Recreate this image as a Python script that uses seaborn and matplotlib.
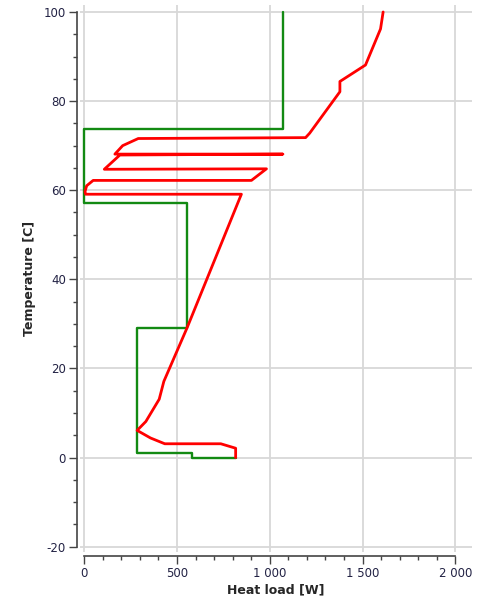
import pandas as pd
import matplotlib.pyplot as plt
import seaborn as sns
from matplotlib.ticker import MultipleLocator, FuncFormatter

# hot side (red) heat load vs temperature
hot_load = [1611, 1597, 1516, 1378, 1378, 1215, 1193, 291, 207, 165, 1071, 192, 108,
            982, 901, 48, 13, 4, 7, 847, 838, 554, 429, 404, 332, 285, 357, 434, 736,
            816, 816]
hot_temp = [100, 96.2, 88.1, 84.4, 82.1, 72.8, 71.8, 71.6, 70.0, 68.1, 68.1, 67.9, 64.7,
            64.8, 62.2, 62.2, 61.0, 59.7, 59.1, 59.1, 58.2, 29.1, 17.1, 13.1, 8.1, 6.1, 4.4,
            3.1, 3.1, 2.1, 0]

# cold side (green) step profile
cold_load = [1071, 1071, 0, 0, 554, 554, 282, 282, 583, 583, 816]
cold_temp = [100, 73.8, 73.8, 57.2, 57.2, 29.1, 29.1, 1.0, 1.0, 0, 0]

hot = pd.DataFrame({"load": hot_load, "temp": hot_temp})
cold = pd.DataFrame({"load": cold_load, "temp": cold_temp})

sns.set_style("whitegrid")
plt.rcParams["font.family"] = ["DejaVu Sans"]
plt.rcParams["axes.unicode_minus"] = False

fig = plt.figure(figsize=(4.79, 6.04), dpi=100)
ax = fig.add_axes([0.167, 0.086, 0.818, 0.906])

sns.lineplot(data=cold, x="load", y="temp", sort=False, estimator=None,
             color="#138a13", linewidth=1.7, ax=ax)
sns.lineplot(data=hot, x="load", y="temp", sort=False, estimator=None,
             color="#ff0000", linewidth=2.0, ax=ax)

ax.set_xlim(-23, 2089)
ax.set_ylim(-21.2, 101.6)
ax.xaxis.set_major_locator(MultipleLocator(500))
ax.xaxis.set_minor_locator(MultipleLocator(100))
ax.yaxis.set_major_locator(MultipleLocator(20))
ax.yaxis.set_minor_locator(MultipleLocator(5))
ax.xaxis.set_major_formatter(FuncFormatter(lambda v, p: f"{int(v):,}".replace(",", " ")))

ax.grid(True, which="major", color="#d8d8d8", linewidth=1.3)
ax.grid(False, which="minor")

for s in ["top", "right"]:
    ax.spines[s].set_visible(False)
for s in ["left", "bottom"]:
    ax.spines[s].set_visible(True)
    ax.spines[s].set_color("#444444")
    ax.spines[s].set_linewidth(1.2)
ax.spines["left"].set_position(("outward", 2))
ax.spines["bottom"].set_position(("outward", 3))
ax.spines["left"].set_bounds(-20, 100)
ax.spines["bottom"].set_bounds(0, 2000)

ax.tick_params(which="major", direction="out", length=6, width=1, color="#444444",
               labelsize=8.5, labelcolor="#222244", left=True, bottom=True, pad=2)
ax.tick_params(which="minor", direction="out", length=3, width=1, color="#444444",
               left=True, bottom=True)

ax.set_xlabel("Heat load [W]", fontsize=9, fontweight="bold", labelpad=2)
ax.set_ylabel("Temperature [C]", fontsize=9, fontweight="bold", labelpad=6)

fig.savefig("out.png", dpi=100, facecolor="white")
